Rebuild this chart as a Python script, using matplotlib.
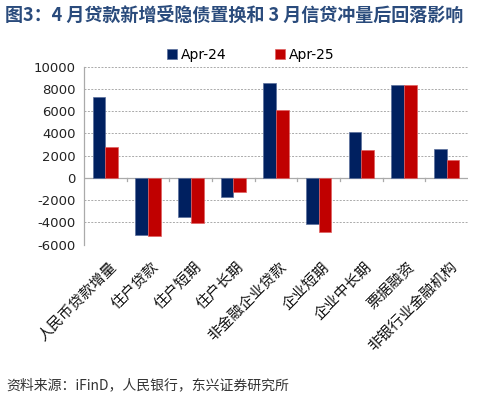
import matplotlib.pyplot as plt
import matplotlib.transforms as mtransforms
import numpy as np

plt.rcParams['font.family'] = ['Noto Sans CJK SC', 'DejaVu Sans']
plt.rcParams['axes.unicode_minus'] = False

categories = ['人民币贷款增量', '住户贷款', '住户短期', '住户长期', '非金融企业贷款',
              '企业短期', '企业中长期', '票据融资', '非银行业金融机构']
apr24 = [7280, -5150, -3530, -1680, 8570, -4130, 4080, 8390, 2580]
apr25 = [2760, -5250, -4040, -1260, 6080, -4850, 2490, 8330, 1590]

fig = plt.figure(figsize=(4.92, 3.99), dpi=100)
ax = fig.add_axes([0.171, 0.387, 0.780, 0.446])

x = np.arange(len(categories))
w = 0.3
ax.bar(x - w / 2, apr24, w, color='#002060', edgecolor='#5a6f9c', linewidth=0.5, label='Apr-24', zorder=3)
ax.bar(x + w / 2, apr25, w, color='#C00000', edgecolor='#e06060', linewidth=0.5, label='Apr-25', zorder=3)

ax.set_xlim(-0.5, len(categories) - 0.5)
ax.set_ylim(-6000, 10000)
ax.set_yticks(np.arange(-6000, 10001, 2000))
ax.tick_params(axis='y', labelsize=9.5, length=0, pad=6, labelcolor='#222222')
for lab in ax.get_yticklabels():
    lab.set_family('DejaVu Sans')
for v in np.arange(-6000, 10001, 2000):
    if v != 0:
        ax.axhline(v, color='#aaaaaa', linestyle=(0, (2, 1.5)), linewidth=0.7, zorder=1)
ax.axhline(0, color='#aaaaaa', linewidth=0.9, zorder=2)

# category boundary ticks hanging from the zero line
for b in np.arange(0.5, len(categories) - 0.5, 1):
    ax.plot([b, b], [0, -250], color='#aaaaaa', linewidth=0.9, zorder=2, clip_on=False)

for s in ['top', 'right', 'bottom']:
    ax.spines[s].set_visible(False)
ax.spines['left'].set_color('#aaaaaa')
ax.spines['left'].set_linewidth(0.9)

ax.set_xticks(x)
ax.set_xticklabels(categories, rotation=45, ha='right', rotation_mode='anchor',
                   fontsize=10.7, fontweight='light', color='#111111')
ax.tick_params(axis='x', length=0, pad=11)
off = mtransforms.ScaledTranslation(2.5 / 72, 0, fig.dpi_scale_trans)
for lab in ax.get_xticklabels():
    lab.set_transform(lab.get_transform() + off)

leg = fig.legend(loc='center', bbox_to_anchor=(0.51, 0.862), ncol=2, frameon=False, fontsize=10,
                 handlelength=0.7, handleheight=0.7, handletextpad=0.3, columnspacing=3.5)
for t in leg.get_texts():
    t.set_family('DejaVu Sans')

fig.text(0.01, 0.962, '图3：4 月贷款新增受隐债置换和 3 月信贷冲量后回落影响',
         fontsize=13, fontweight='bold', color='#2A4B7C', va='center')
fig.text(0.012, 0.035, '资料来源：iFinD，人民银行，东兴证券研究所',
         fontsize=10, style='italic', color='#333333', va='center')

plt.savefig('out.png', dpi=100)
